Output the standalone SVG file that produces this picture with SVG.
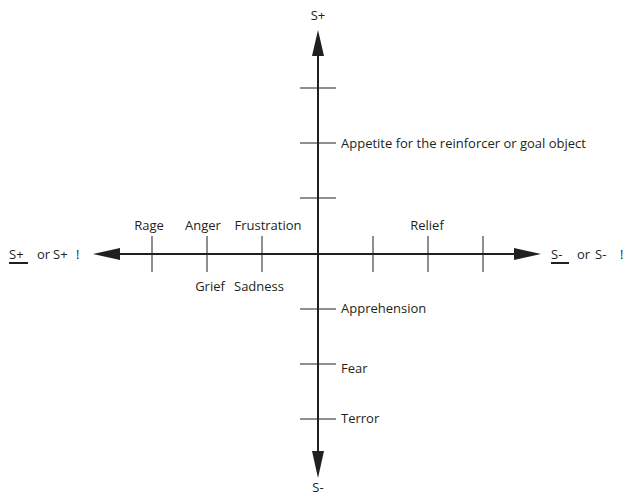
<svg xmlns="http://www.w3.org/2000/svg" width="627" height="496" viewBox="0 0 627 496">
<style>
.ax{stroke:#231f20;stroke-width:2;fill:none}
.tk{stroke:#231f20;stroke-width:1;fill:none}
.ah{fill:#231f20}
text{font-family:"Open Sans","Liberation Sans",sans-serif;font-size:13px;fill:#231f20}
.ul{stroke:#231f20;stroke-width:2}
</style>
<rect width="627" height="496" fill="#fff"/>
<g id="connectors">
<line class="ax" x1="118" y1="254" x2="516" y2="254"/>
<line class="ax" x1="318" y1="54" x2="318" y2="452"/>
<polygon class="ah" points="93,254 120,248 120,260"/>
<polygon class="ah" points="541,254 514,248 514,260"/>
<polygon class="ah" points="318,30 312,56 324,56"/>
<polygon class="ah" points="318,478 312,451 324,451"/>
<line class="tk" x1="152" y1="236" x2="152" y2="272"/>
<line class="tk" x1="207" y1="236" x2="207" y2="272"/>
<line class="tk" x1="262" y1="236" x2="262" y2="272"/>
<line class="tk" x1="373" y1="236" x2="373" y2="272"/>
<line class="tk" x1="428" y1="236" x2="428" y2="272"/>
<line class="tk" x1="483" y1="236" x2="483" y2="272"/>
<line class="tk" x1="300" y1="88" x2="336" y2="88"/>
<line class="tk" x1="300" y1="143" x2="336" y2="143"/>
<line class="tk" x1="300" y1="198" x2="336" y2="198"/>
<line class="tk" x1="300" y1="309" x2="336" y2="309"/>
<line class="tk" x1="300" y1="364" x2="336" y2="364"/>
<line class="tk" x1="300" y1="419" x2="336" y2="419"/>
</g>
<g id="axis-labels">
<text x="318" y="20" text-anchor="middle">S+</text>
<text x="318" y="492" text-anchor="middle">S-</text>
<text x="9" y="259">S+</text>
<text x="37" y="259">or</text>
<text x="53" y="259">S+</text>
<text x="76" y="259">!</text>
<line class="ul" x1="9" y1="263" x2="28" y2="263"/>
<text x="551" y="259">S-</text>
<text x="577" y="259">or</text>
<text x="595" y="259">S-</text>
<text x="620" y="259">!</text>
<line class="ul" x1="551" y1="263" x2="569" y2="263"/>
</g>
<g id="n-rage"><text x="149" y="230" text-anchor="middle">Rage</text></g>
<g id="n-anger"><text x="203" y="230" text-anchor="middle">Anger</text></g>
<g id="n-frustration"><text x="268" y="230" text-anchor="middle">Frustration</text></g>
<g id="n-grief"><text x="210" y="291" text-anchor="middle">Grief</text></g>
<g id="n-sadness"><text x="259" y="291" text-anchor="middle">Sadness</text></g>
<g id="n-relief"><text x="427" y="230" text-anchor="middle">Relief</text></g>
<g id="n-appetite"><text x="341" y="148">Appetite for the reinforcer or goal object</text></g>
<g id="n-apprehension"><text x="341" y="313">Apprehension</text></g>
<g id="n-fear"><text x="341" y="373">Fear</text></g>
<g id="n-terror"><text x="341" y="423">Terror</text></g>
</svg>
